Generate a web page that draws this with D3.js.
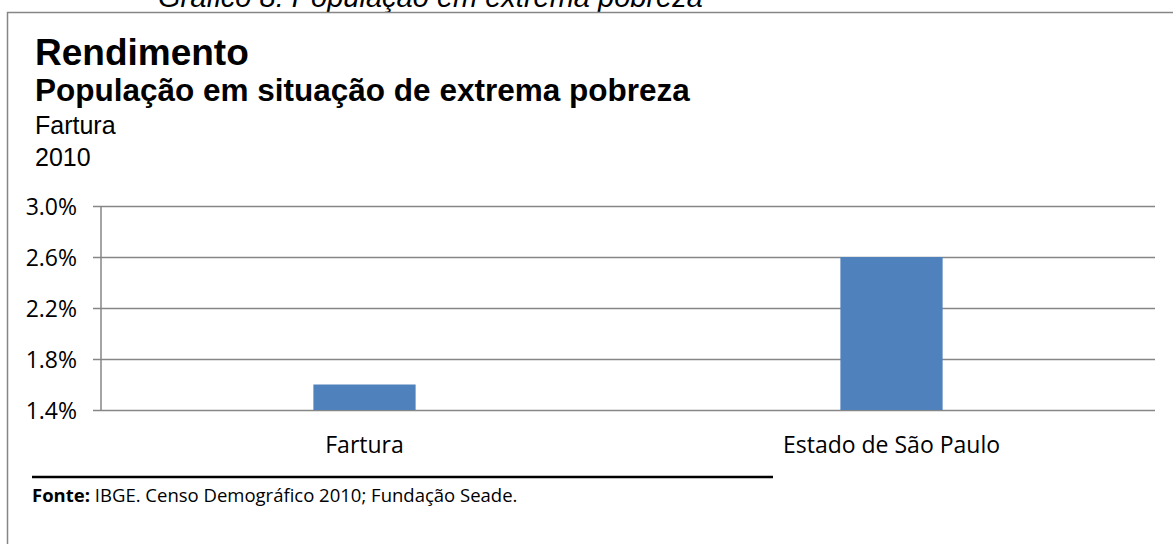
<!DOCTYPE html>
<html>
<head>
<meta charset="utf-8">
<script src="https://cdn.jsdelivr.net/npm/d3@7"></script>
<style>
	body { margin: 0; background: #fff; }
	svg { display: block; }
</style>
</head>
<body>
<div id="chart"></div>
<script>
// Data
var categories = ["Fartura", "Estado de São Paulo"];
var values = [1.6, 2.6];
var yTicks = [1.4, 1.8, 2.2, 2.6, 3.0];
var titleLines = ["Rendimento", "População em situação de extrema pobreza", "Fartura", "2010"];
var pageCaption = "Gráfico 8: População em extrema pobreza";
var sourceBold = "Fonte:";
var sourceText = " IBGE. Censo Demográfico 2010; Fundação Seade.";

// Canvas parameters
var canvas = {
	width: 1173,
	height: 544,
	left: 101,
	right: 1155,
	top: 206,
	bottom: 410
};
var arial = "'Liberation Sans', Arial, sans-serif";
var calibri = "'Open Sans', Calibri, sans-serif";

var svg = d3.select("#chart")
	.append("svg")
	.attr("width", canvas.width)
	.attr("height", canvas.height);

// Caption of the page, cut by the top of the picture
svg.append("text")
	.text(pageCaption)
	.attr("x", 158)
	.attr("y", 6.5)
	.attr("font-family", arial)
	.attr("font-style", "italic")
	.attr("font-size", "29px")
	.attr("fill", "#000");

// Frame of the chart
svg.append("path")
	.attr("d", "M7.5," + canvas.height + "V12.5H" + canvas.width)
	.attr("fill", "none")
	.attr("stroke", "#868686")
	.attr("stroke-width", 1.5);

// Title block
var titleStyle = [
	{ size: "37px", weight: "bold", y: 65 },
	{ size: "31.5px", weight: "bold", y: 101 },
	{ size: "25px", weight: "normal", y: 134 },
	{ size: "25px", weight: "normal", y: 166 }
];
svg.selectAll("title_line")
	.data(titleLines)
	.enter()
	.append("text")
	.text(function(d) {
		return d;
	})
	.attr("x", 35)
	.attr("y", function(d, i) {
		return titleStyle[i].y;
	})
	.attr("font-family", arial)
	.attr("font-weight", function(d, i) {
		return titleStyle[i].weight;
	})
	.attr("font-size", function(d, i) {
		return titleStyle[i].size;
	})
	.attr("fill", "#000");

// Scales
var x = d3.scaleBand()
	.domain(categories)
	.range([canvas.left, canvas.right])
	.paddingInner(0.806)
	.paddingOuter(0.403);
var y = d3.scaleLinear()
	.domain([1.4, 3.0])
	.range([canvas.bottom, canvas.top]);

// Y axis with gridlines
var yAxis = svg.append("g")
	.attr("transform", "translate(" + canvas.left + ",0)")
	.call(d3.axisLeft(y)
		.tickValues(yTicks)
		.tickSizeInner(-(canvas.right - canvas.left))
		.tickSizeOuter(0)
		.tickPadding(24)
		.tickFormat(function(d) {
			return d.toFixed(1) + "%";
		}));
yAxis.select(".domain").remove();
yAxis.selectAll(".tick line")
	.attr("x1", -8)
	.attr("stroke", "#868686")
	.attr("stroke-width", 1.5);
yAxis.selectAll(".tick text")
	.attr("font-family", calibri)
	.attr("font-size", "23px")
	.attr("fill", "#000")
	.attr("dy", "0.36em");

// Vertical axis line
svg.append("line")
	.attr("x1", canvas.left)
	.attr("x2", canvas.left)
	.attr("y1", y(3.0))
	.attr("y2", y(1.4))
	.attr("stroke", "#868686")
	.attr("stroke-width", 1.5);

// Bars
svg.selectAll("bar")
	.data(values)
	.enter()
	.append("rect")
	.attr("class", "bar")
	.attr("x", function(d, i) {
		return x(categories[i]);
	})
	.attr("y", function(d) {
		return y(d);
	})
	.attr("width", x.bandwidth())
	.attr("height", function(d) {
		return y(1.4) - y(d);
	})
	.attr("fill", "#4F81BD");

// Category labels
var xAxis = svg.append("g")
	.attr("transform", "translate(0," + canvas.bottom + ")")
	.call(d3.axisBottom(x).tickSize(0));
xAxis.select(".domain").remove();
xAxis.selectAll(".tick text")
	.attr("y", 43)
	.attr("dy", 0)
	.attr("font-family", calibri)
	.attr("font-size", "23px")
	.attr("fill", "#000");

// Source line
svg.append("line")
	.attr("x1", 32)
	.attr("x2", 773)
	.attr("y1", 477)
	.attr("y2", 477)
	.attr("stroke", "#000")
	.attr("stroke-width", 2.5);
var source = svg.append("text")
	.attr("x", 32)
	.attr("y", 502)
	.attr("font-family", calibri)
	.attr("font-size", "18.5px")
	.attr("fill", "#000");
source.append("tspan")
	.attr("font-weight", "bold")
	.text(sourceBold);
source.append("tspan")
	.text(sourceText);
</script>
</body>
</html>
